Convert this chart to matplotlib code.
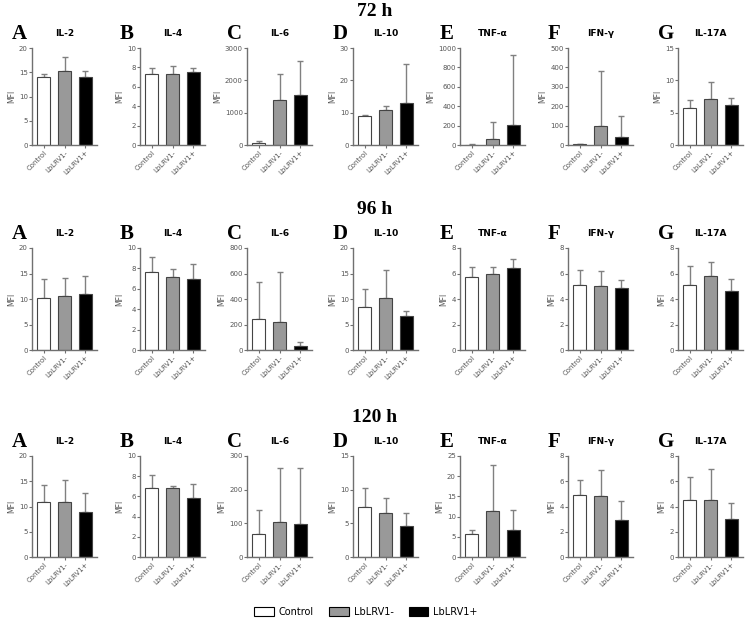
import numpy as np
import matplotlib.pyplot as plt
from matplotlib.patches import Patch

# cytokine panels and groups
cytokines = ['IL-2', 'IL-4', 'IL-6', 'IL-10', 'TNF-α', 'IFN-γ', 'IL-17A']
letters = ['A', 'B', 'C', 'D', 'E', 'F', 'G']
groups = ['Control', 'LbLRV1-', 'LbLRV1+']
times = ['72 h', '96 h', '120 h']

# mean MFI per cytokine (Control, LbLRV1-, LbLRV1+)
mean_72h = [[14.0, 15.3, 14.1], [7.3, 7.3, 7.5], [50, 1400, 1550], [9.0, 10.8, 13.0],
            [5, 60, 210], [3, 100, 40], [5.7, 7.1, 6.2]]
sd_72h = [[0.6, 2.9, 1.2], [0.6, 0.8, 0.4], [60, 800, 1050], [0.3, 1.4, 12.0],
          [5, 180, 720], [2, 280, 110], [1.3, 2.7, 1.1]]

mean_96h = [[10.1, 10.6, 10.9], [7.6, 7.2, 7.0], [240, 220, 30], [8.5, 10.1, 6.7],
            [5.7, 6.0, 6.4], [5.1, 5.0, 4.9], [5.1, 5.8, 4.6]]
sd_96h = [[3.9, 3.6, 3.7], [1.5, 0.7, 1.4], [290, 390, 30], [3.5, 5.5, 1.0],
          [0.8, 0.5, 0.7], [1.2, 1.2, 0.6], [1.5, 1.1, 1.0]]

mean_120h = [[10.8, 10.9, 9.0], [6.8, 6.8, 5.8], [68, 105, 97], [7.5, 6.6, 4.6],
             [5.7, 11.4, 6.6], [4.9, 4.8, 2.9], [4.5, 4.5, 3.0]]
sd_120h = [[3.5, 4.3, 3.6], [1.3, 0.2, 1.4], [72, 160, 168], [2.8, 2.2, 1.9],
           [1.1, 11.3, 5.0], [1.2, 2.1, 1.5], [1.8, 2.5, 1.3]]

# y axis ranges per row
ymax_72h = [20, 10, 3000, 30, 1000, 500, 15]
ystep_72h = [5, 2, 1000, 10, 200, 100, 5]
ymax_96h = [20, 10, 800, 20, 8, 8, 8]
ystep_96h = [5, 2, 200, 5, 2, 2, 2]
ymax_120h = [20, 10, 300, 15, 25, 8, 8]
ystep_120h = [5, 2, 100, 5, 5, 2, 2]

means = [mean_72h, mean_96h, mean_120h]
sds = [sd_72h, sd_96h, sd_120h]
ymaxs = [ymax_72h, ymax_96h, ymax_120h]
ysteps = [ystep_72h, ystep_96h, ystep_120h]

bar_colors = ['white', '#999999', 'black']
spine_col = '#707070'

W, H = 750, 626
fig = plt.figure(figsize=(7.5, 6.26), dpi=100)

row_tops = [48, 248, 456]
row_bots = [145, 350, 557]
title_y = [12, 209, 417]
lefts = [32, 140, 247, 353, 460, 568, 678]
ax_w = 65

for r in range(3):
    fig.text(0.5, 1 - title_y[r] / H, times[r], ha='center', va='center',
             fontsize=14, fontweight='bold', family='Liberation Serif')
    for j in range(7):
        l = lefts[j]
        ax = fig.add_axes([l / W, 1 - row_bots[r] / H, ax_w / W,
                           (row_bots[r] - row_tops[r]) / H])
        x = np.arange(3)
        m = means[r][j]
        s = sds[r][j]
        ax.bar(x, m, width=0.65, color=bar_colors, edgecolor='#444444',
               linewidth=0.8, zorder=2)
        ax.errorbar(x, m, yerr=[np.zeros(3), s], fmt='none', ecolor='#808080',
                    elinewidth=1.0, capsize=2.5, capthick=1.0, zorder=1)
        ax.set_xlim(-0.55, 2.55)
        ax.set_ylim(0, ymaxs[r][j])
        ax.set_yticks(np.arange(0, ymaxs[r][j] + 1e-9, ysteps[r][j]))
        ax.set_xticks(x)
        ax.set_xticklabels(groups, rotation=45, ha='right', rotation_mode='anchor',
                           fontsize=5, color='#555555')
        ax.tick_params(axis='y', labelsize=5, labelcolor='#555555', length=2,
                       width=0.8, color=spine_col, pad=1)
        ax.tick_params(axis='x', length=2, width=0.8, color=spine_col, pad=1)
        for sp in ['top', 'right']:
            ax.spines[sp].set_visible(False)
        for sp in ['left', 'bottom']:
            ax.spines[sp].set_color(spine_col)
            ax.spines[sp].set_linewidth(1.0)
        ax.set_ylabel('MFI', fontsize=5.5, color='#555555', labelpad=2)
        ax.set_title(cytokines[j], fontsize=6.5, fontweight='bold', pad=9)
        fig.text((l - 20) / W, 1 - (row_tops[r] - 14) / H, letters[j],
                 ha='left', va='center', fontsize=15, fontweight='bold',
                 family='Liberation Serif')

handles = [Patch(facecolor=c, edgecolor='black', linewidth=0.8) for c in bar_colors]
fig.legend(handles, groups, loc='center', bbox_to_anchor=(366 / W, 1 - 612 / H),
           ncol=3, frameon=False, fontsize=7, handlelength=2.0, handleheight=1.1,
           columnspacing=1.6, handletextpad=0.5)

fig.savefig('out.png', dpi=100, facecolor='white')
